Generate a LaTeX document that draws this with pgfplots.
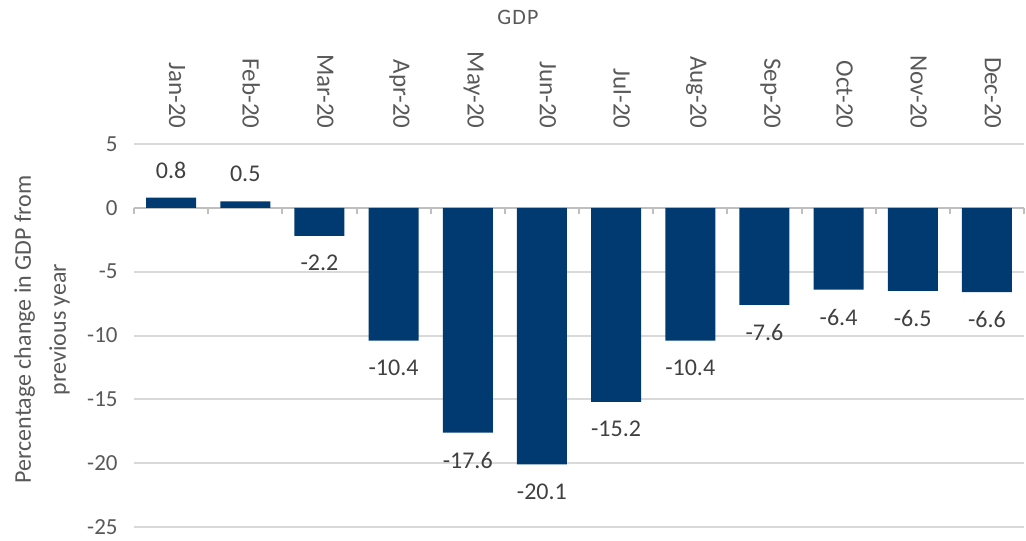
\documentclass[border=0pt]{standalone}
\usepackage{pgfplots}
\pgfplotsset{compat=1.18}
\usepackage{fontspec}
\setmainfont{Carlito}
\definecolor{barblue}{HTML}{003A70}
\definecolor{txtgray}{HTML}{595959}
\definecolor{lblgray}{HTML}{404040}
\definecolor{gridgray}{HTML}{D9D9D9}
\definecolor{axgray}{HTML}{BFBFBF}
\begin{document}
\begin{tikzpicture}
\useasboundingbox (0,0) rectangle (513pt,270pt);
\begin{axis}[
  at={(67pt,6.5pt)}, anchor=south west,
  scale only axis, width=445pt, height=191.5pt,
  xmin=-0.5, xmax=11.5, ymin=-25, ymax=5,
  /pgf/number format/assume math mode=true,
  ytick={-25,-20,...,5},
  xtick={0,...,11},
  xticklabels={Jan-20,Feb-20,Mar-20,Apr-20,May-20,Jun-20,Jul-20,Aug-20,Sep-20,Oct-20,Nov-20,Dec-20},
  xticklabel pos=upper,
  x tick label style={rotate=-90, anchor=east, font=\fontsize{12.5}{14}\selectfont, text=txtgray, yshift=3pt},
  y tick label style={font=\fontsize{11.5}{13}\selectfont, text=txtgray, xshift=-7pt, inner sep=1pt},
  axis line style={draw=none},
  major tick style={draw=none},
  ymajorgrids, grid style={gridgray, line width=1pt},
  ylabel={Percentage change in GDP from\\previous year},
  ylabel style={at={(axis description cs:0,0.516)}, anchor=center, yshift=46pt, align=center, font=\fontsize{12}{17.5}\selectfont, text=txtgray},
  ybar, bar width=25pt,
  nodes near coords={\pgfmathprintnumber[fixed,precision=1,fixed zerofill,assume math mode=true]{\pgfplotspointmeta}},
  nodes near coords align=vertical,
  every node near coord/.append style={font=\fontsize{12}{14}\selectfont, text=lblgray, inner sep=9.5pt},
  point meta=y,
  clip=false,
]
\draw[axgray, line width=1pt] (axis cs:-0.5,0) -- (axis cs:11.5,0);
\pgfplotsinvokeforeach{-0.5,0.5,...,11.5}{\draw[axgray, line width=1pt] (axis cs:#1,0) -- ([yshift=-3pt]axis cs:#1,0);}
\addplot[fill=barblue, draw=none] table[x=x, y=y] {
x y
0 0.8
1 0.5
2 -2.2
3 -10.4
4 -17.6
5 -20.1
6 -15.2
7 -10.4
8 -7.6
9 -6.4
10 -6.5
11 -6.6
};
\end{axis}
\node[font=\fontsize{11}{13}\selectfont, text=txtgray] at (259pt,261.5pt) {G\kern0.6pt D\kern0.6pt P};
\end{tikzpicture}
\end{document}
